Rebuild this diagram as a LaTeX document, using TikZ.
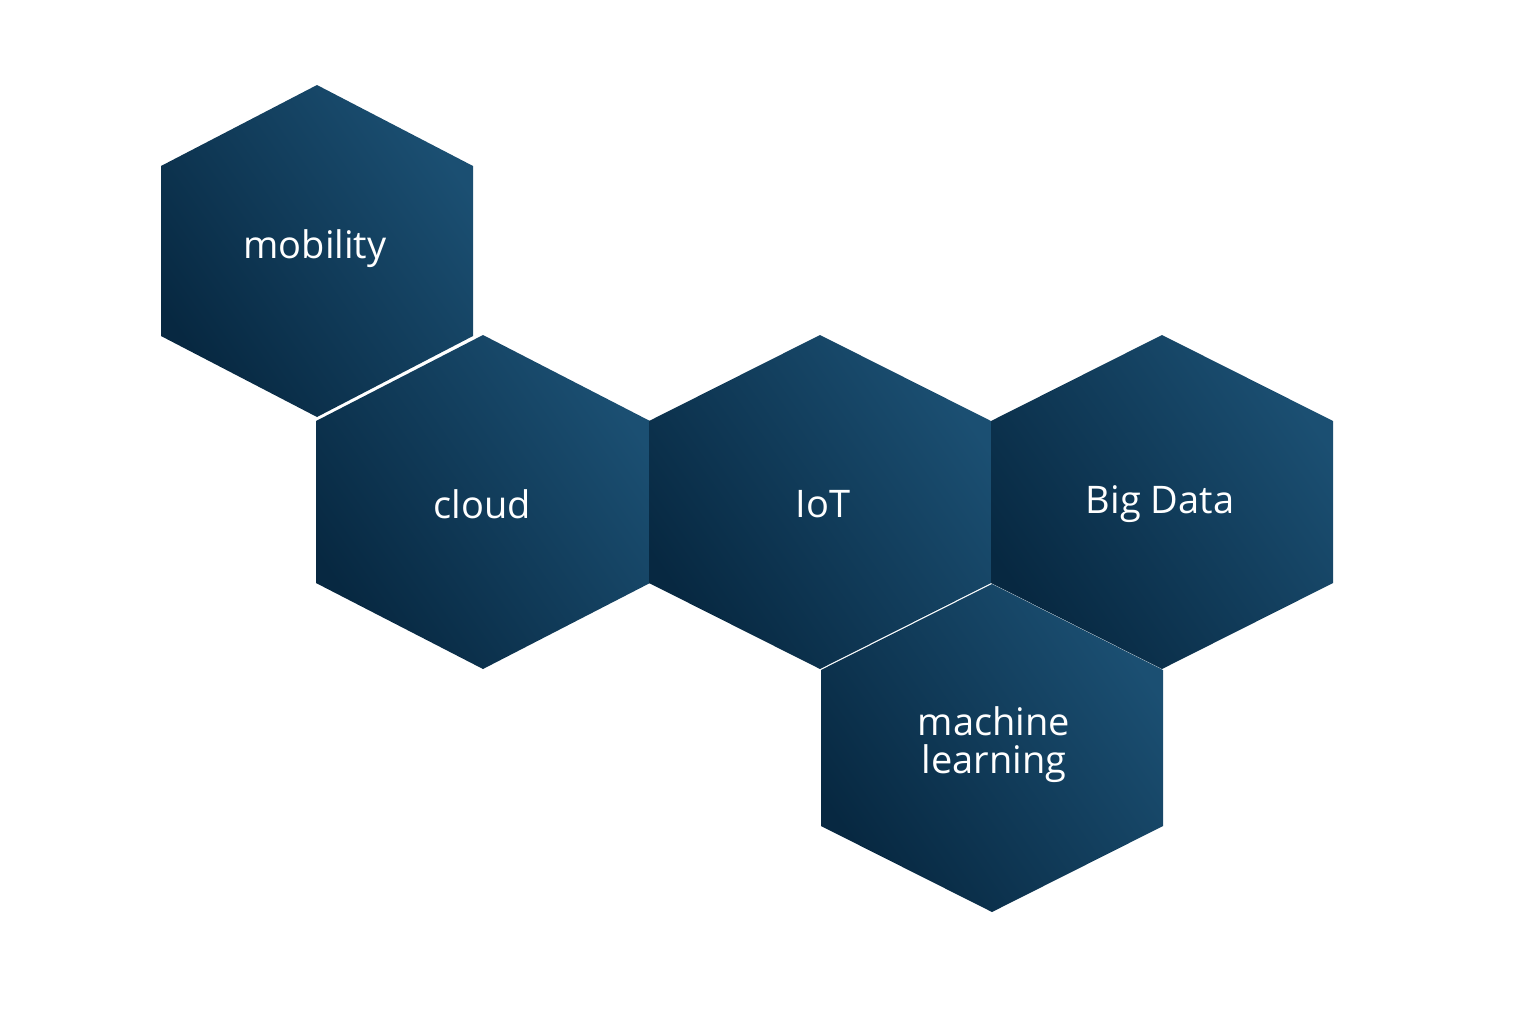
\documentclass[tikz,border=0pt]{standalone}
\usepackage{fontspec}
\setmainfont{Open Sans}
\usepackage{tikz}
\definecolor{hexlight}{HTML}{1B4F72}
\definecolor{hexdark}{HTML}{072841}
\tikzset{
  hex/.style={shading=axis, left color=hexlight, right color=hexdark, shading angle=-55, draw=none},
  label/.style={text=white, font=\fontsize{19}{23}\selectfont, align=center}
}
% hexagon: centre x, centre y, half width, half height, half side
\newcommand{\hexagon}[5]{%
  \path[hex] (#1,#2-#4) -- (#1+#3,#2-#5) -- (#1+#3,#2+#5) -- (#1,#2+#4)
    -- (#1-#3,#2+#5) -- (#1-#3,#2-#5) -- cycle;}
\begin{document}
\begin{tikzpicture}[x=0.5pt, y=-0.5pt]
  \useasboundingbox (0,0) rectangle (1536,1024);
  \hexagon{317}{251}{156}{166}{85}
  \hexagon{483}{502}{167}{167}{81}
  \hexagon{820}{502}{171}{167}{81}
  \hexagon{1162}{502}{171}{167}{81}
  \hexagon{992}{748}{171}{164}{78}

  \node[label] (mobility) at (315,249) {mobility};
  \node[label] (cloud) at (482,504) {cloud};
  \node[label] (iot) at (823,504) {IoT};
  \node[label] (bigdata) at (1160,504) {Big Data};
  \node[label] (ml) at (994,745) {machine\\[-4pt]learning};
\end{tikzpicture}
\end{document}
